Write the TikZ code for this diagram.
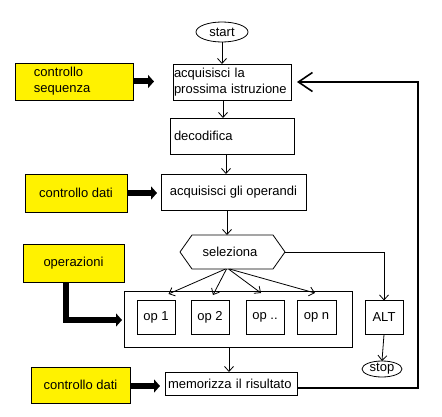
\documentclass[tikz,border=0pt]{standalone}
\usepackage{fontspec}
\setmainfont{Liberation Sans}
\usetikzlibrary{arrows.meta,shapes.geometric}
\begin{document}
\begin{tikzpicture}[x=1pt,y=-1pt,
  font=\fontsize{13}{16}\selectfont,
  every node/.style={inner sep=0pt, outer sep=0pt},
  box/.style={draw, line width=0.8pt, fill=white},
  ybox/.style={draw, line width=0.8pt, fill=yellow},
  oval/.style={draw, line width=0.8pt, ellipse},
  arr/.style={line width=0.8pt, -{Straight Barb[length=5pt,width=9pt]}},
  fatarr/.style={line width=6pt, -{Triangle[length=6pt,width=13pt]}},
  fbarr/.style={line width=2.5pt, -{Straight Barb[length=14pt,width=19pt,line width=1.6pt]}}]
\useasboundingbox[fill=white] (0,0) rectangle (442,417);

% main column
\node[oval, minimum width=52, minimum height=20] (start) at (222,32) {};
\node (starttxt) at (222,32) {start};
\node[box, minimum width=118, minimum height=36, text width=116, inner xsep=1pt, align=left] (b1) at (232,82) {acquisisci la\\prossima istruzione};
\node[box, minimum width=124, minimum height=36, text width=116, inner xsep=4pt, align=left] (b2) at (232,136) {decodifica};
\node[box, minimum width=145, minimum height=36] (b3) at (233.5,192) {acquisisci gli operandi};
\node[minimum width=105, minimum height=34] (sel) at (232.5,252) {};
\node (seltxt) at (230,252) {seleziona};
\draw[line width=0.8pt] (sel.west) -- ([xshift=12]sel.north west) -- ([xshift=-12]sel.north east)
  -- (sel.east) -- ([xshift=-12]sel.south east) -- ([xshift=12]sel.south west) -- cycle;

% operations group
\node[box, minimum width=228, minimum height=56] (grp) at (238,319) {};
\node[box, minimum width=38, minimum height=34] (op1) at (156,317) {op 1};
\node[box, minimum width=38, minimum height=34] (op2) at (210,317) {op 2};
\node[box, minimum width=38, minimum height=34] (op3) at (265,317) {op ..};
\node[box, minimum width=39, minimum height=34] (op4) at (316.5,317) {op n};

\node[box, minimum width=38, minimum height=34] (alt) at (384,317.5) {ALT};
\node[oval, minimum width=40, minimum height=16] (stop) at (382,369) {};
\node (stoptxt) at (382,369) {stop};

\node[box, minimum width=132, minimum height=23, text width=126, inner xsep=3pt, align=left] (mem) at (231,383.5) {memorizza il risultato};

% yellow boxes
\node[ybox, minimum width=102, minimum height=37, text width=80, inner xsep=19pt, align=left] (y1) at (74,81.5) {controllo\\sequenza};
\node[ybox, minimum width=102, minimum height=38] (y2) at (76,193) {controllo dati};
\node[ybox, minimum width=101, minimum height=38] (y3) at (73.5,263) {operazioni};
\node[ybox, minimum width=99, minimum height=36] (y4) at (80.5,385) {controllo dati};

% thin arrows
\draw[arr] (start.south) -- (start.south |- b1.north);
\draw[arr] ([xshift=-9]b1.south) -- ([xshift=-9]b1.south |- b2.north);
\draw[arr] ([xshift=-6]b2.south) -- ([xshift=-6]b2.south |- b3.north);
\draw[arr] ([xshift=-6.5]b3.south) -- ([xshift=-6.5]b3.south |- sel.north);
\draw[arr] ([xshift=-7]sel.south) -- ([xshift=-69.5,yshift=-3]grp.north);
\draw[arr] ([xshift=-6]sel.south) -- ([xshift=-25,yshift=-4]grp.north);
\draw[arr] ([xshift=-4]sel.south) -- ([xshift=23,yshift=-2]grp.north);
\draw[arr] ([xshift=-3]sel.south) -- ([xshift=77,yshift=-2]grp.north);
\draw[arr] (sel.east) -| (alt.north);
\draw[arr] (alt.south) -- (stop.north);
\draw[arr] ([xshift=-9]grp.south) -- ([xshift=-9]grp.south |- mem.north);

% thick arrows
\draw[fatarr, shorten >=19pt] (y1.east) -- (y1.east -| b1.west);
\draw[fatarr, shorten >=4pt] (y2.east) -- (y2.east -| b3.west);
\draw[fatarr, shorten >=2pt] ([xshift=-7.5]y3.south) |- ([yshift=-1]grp.west);
\draw[fatarr, shorten >=5pt] ([yshift=-1]y4.east) -- ([yshift=-1]y4.east -| mem.west);

% feedback
\coordinate (rt) at (418,388);
\draw[fbarr, shorten >=6pt] ([yshift=-4.5]mem.east) -- (rt) |- (b1.east);
\end{tikzpicture}
\end{document}
